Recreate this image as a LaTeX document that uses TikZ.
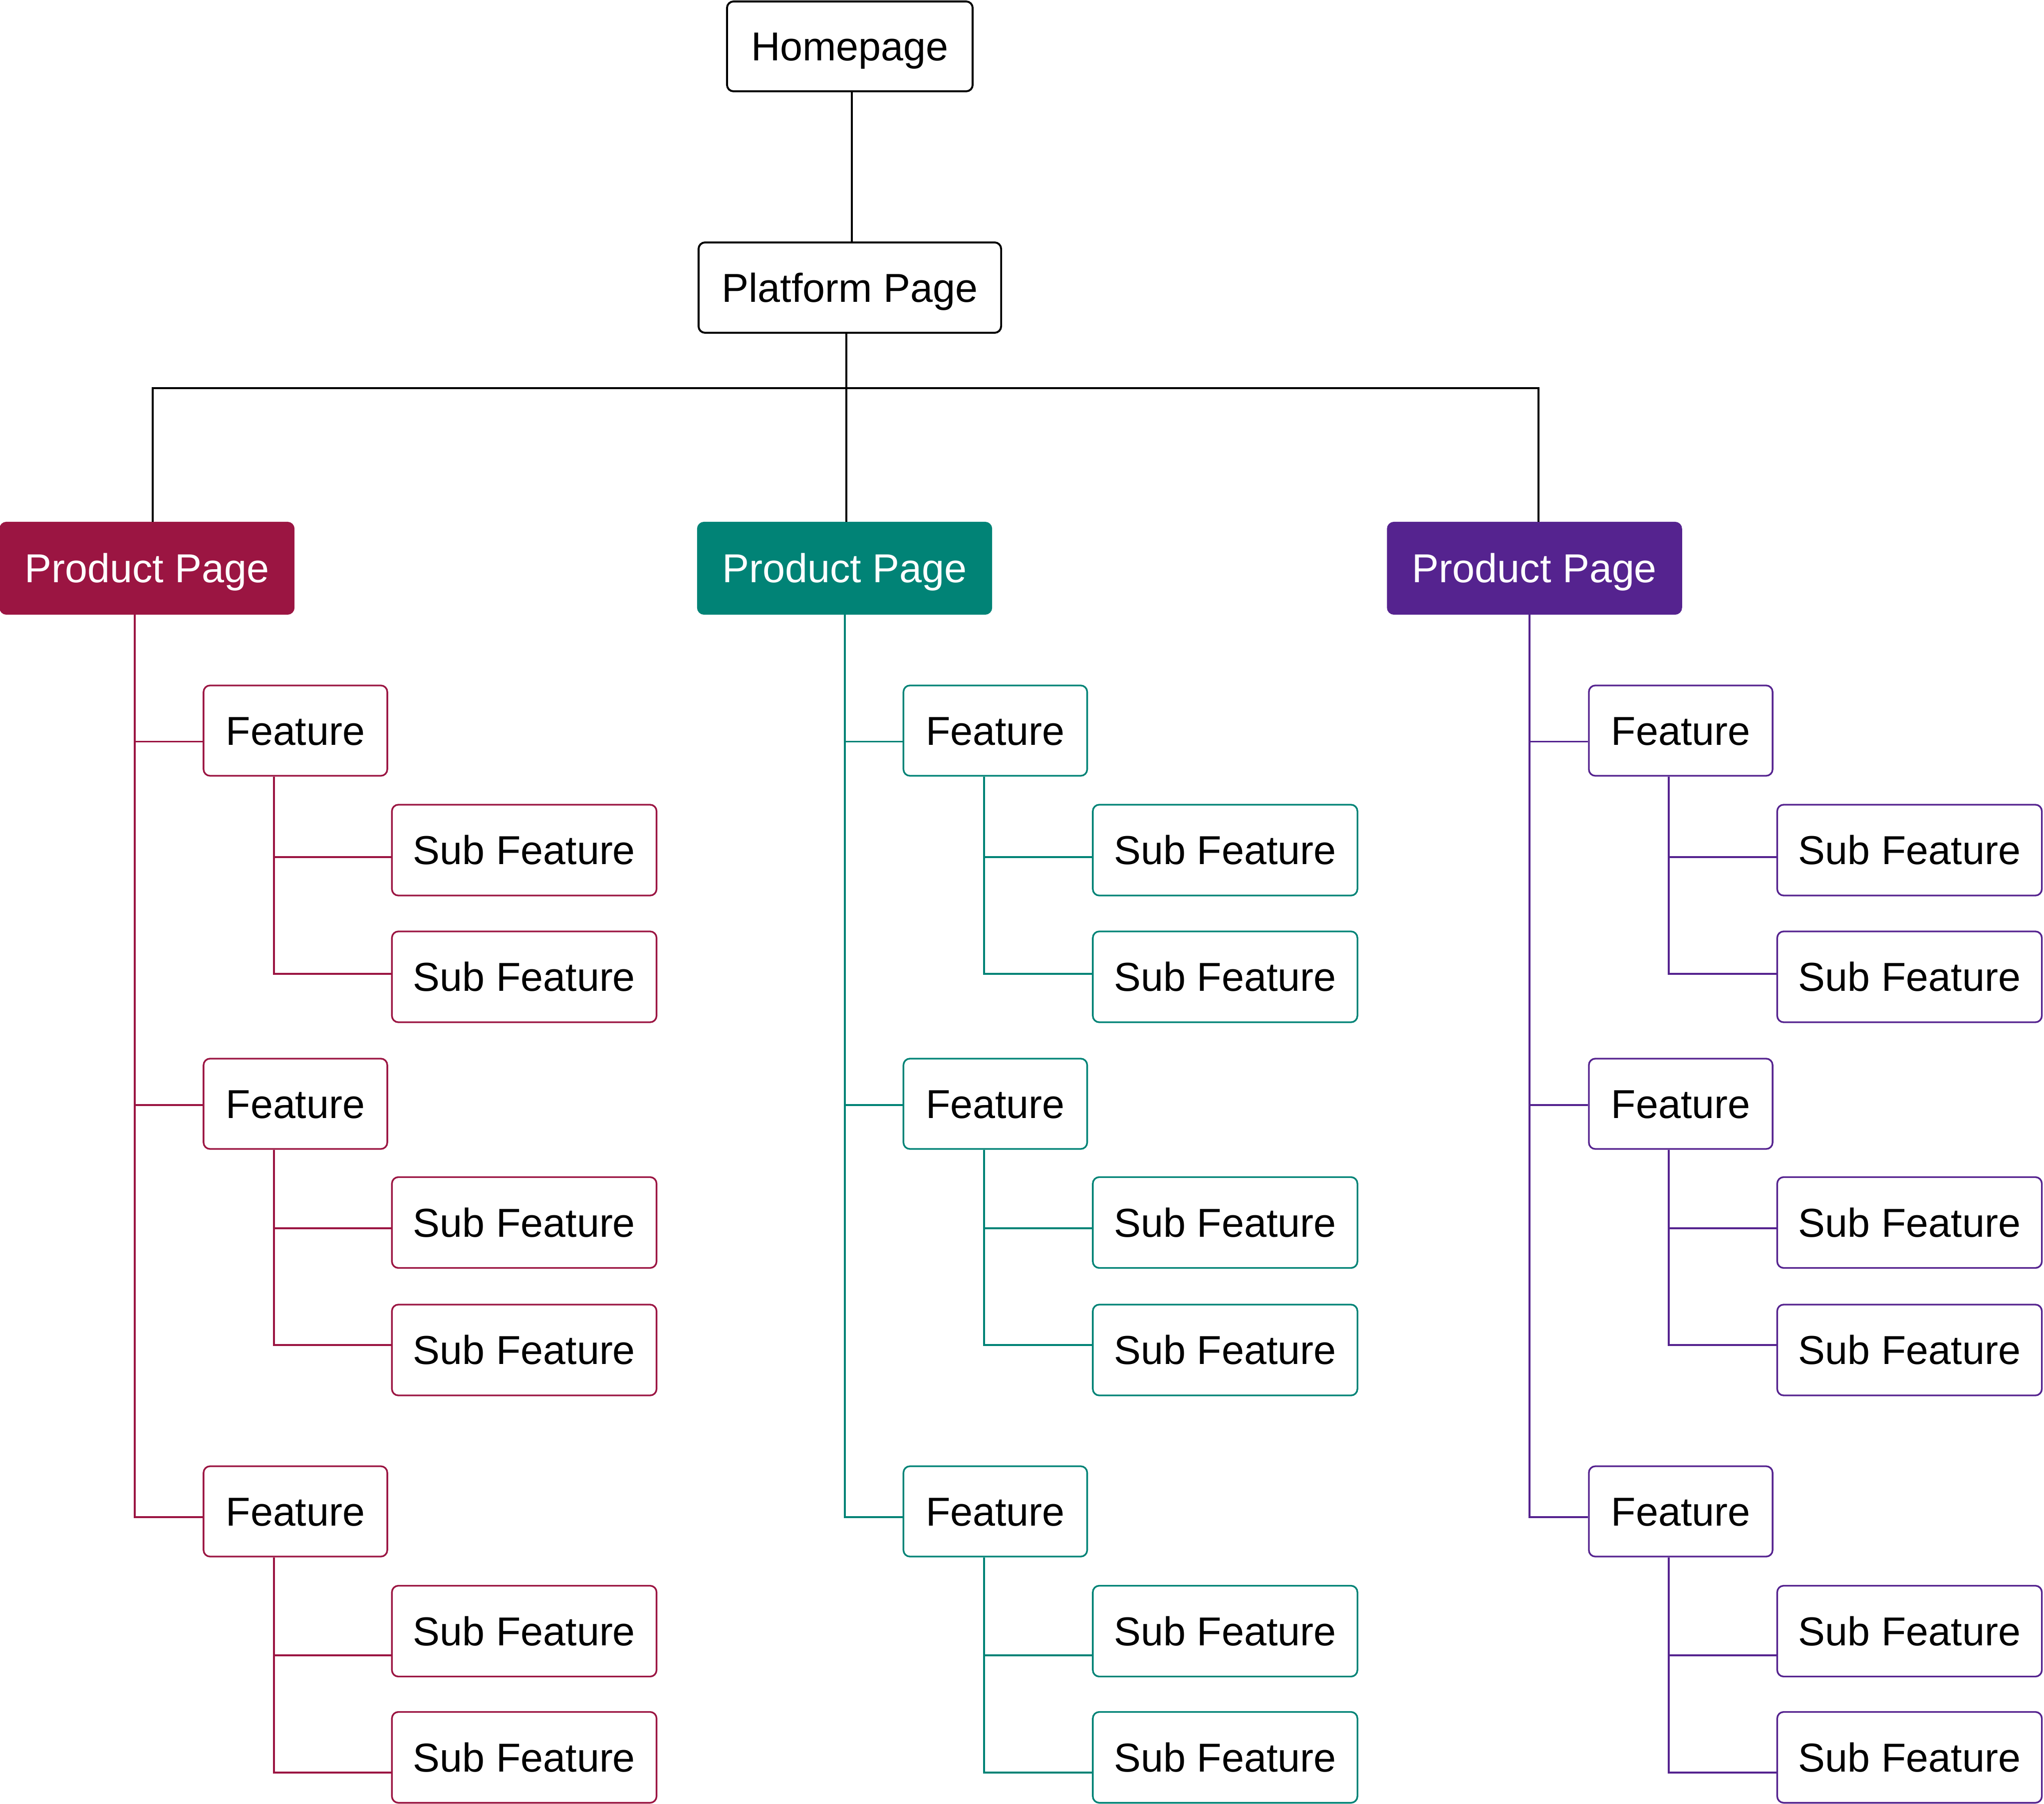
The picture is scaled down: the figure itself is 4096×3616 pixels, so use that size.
\documentclass[tikz,border=0pt]{standalone}
\usepackage{fontspec}
\setmainfont{Liberation Sans}
\definecolor{cred}{RGB}{155,21,66}
\definecolor{cteal}{RGB}{1,131,118}
\definecolor{cpurp}{RGB}{85,35,143}
\tikzset{
  box/.style={draw, rounded corners=0.13cm, fill=white, inner sep=0pt,
    text depth=0pt, text height=16.45pt, font=\fontsize{23}{27.6}\selectfont},
  blackbox/.style={box, draw=black, line width=1.1pt},
  ppage/.style={box, draw=#1, fill=#1, text=white, line width=0.6pt,
    minimum width=5.89cm, minimum height=1.84cm},
  feat/.style={box, draw=#1, line width=0.95pt, minimum width=3.68cm, minimum height=1.81cm},
  subf/.style={box, draw=#1, line width=0.95pt, minimum width=5.30cm, minimum height=1.82cm},
  blackline/.style={draw=black, line width=1.1pt},
  colline/.style={draw=#1, line width=0.9pt},
}
\begin{document}
\begin{tikzpicture}[x=0.01cm,y=-0.01cm]
\useasboundingbox (0,0) rectangle (4096,3616);
% top nodes
\node[blackbox, minimum width=4.92cm, minimum height=1.80cm] (home) at (1703,93) {Homepage};
\node[blackbox, minimum width=6.06cm, minimum height=1.81cm] (plat) at (1703,576.5) {Platform Page};
% product pages
\node[ppage=cred]  (ppR) at (294.5,1139) {Product Page};
\node[ppage=cteal] (ppT) at (1692.5,1139) {Product Page};
\node[ppage=cpurp] (ppP) at (3075,1139) {Product Page};
% helper coordinates
\coordinate (hx) at (1707,0);
\coordinate (px) at (1696,0);
\coordinate (bus) at (0,778);
\coordinate (dR) at (306,0);
\coordinate (dT) at (1696,0);
\coordinate (dP) at (3083,0);
\draw[blackline] (home.south -| hx) -- (plat.north -| hx);
\draw[blackline] (plat.south -| px) -- (bus -| px);
\draw[blackline] (ppR.north -| dR) |- (bus -| dT);
\draw[blackline] (bus -| dT) -| (ppP.north -| dP);
\draw[blackline] (bus -| dT) -- (ppT.north -| dT);
% branch levels
\coordinate (yF1) at (0,1486.5);
\coordinate (yF2) at (0,2215);
\coordinate (yF3) at (0,3041);
\coordinate (yS1) at (0,1718);
\coordinate (yS2) at (0,1952);
\coordinate (yS3) at (0,2462);
\coordinate (yS4) at (0,2696);
\coordinate (yS5) at (0,3318);
\coordinate (yS6) at (0,3553);
\foreach \c/\col/\tx/\ux/\fx/\sx in {R/cred/270/549/592/1050.5, T/cteal/1693/1972/1994.5/2455, P/cpurp/3065/3344/3368/3826.5}{
  \node[feat=\col] (f\c1) at (\fx,1464.5) {Feature};
  \node[feat=\col] (f\c2) at (\fx,2212.5) {Feature};
  \node[feat=\col] (f\c3) at (\fx,3029.5) {Feature};
  \node[subf=\col] (s\c1) at (\sx,1704) {Sub Feature};
  \node[subf=\col] (s\c2) at (\sx,1958) {Sub Feature};
  \node[subf=\col] (s\c3) at (\sx,2450.5) {Sub Feature};
  \node[subf=\col] (s\c4) at (\sx,2706) {Sub Feature};
  \node[subf=\col] (s\c5) at (\sx,3269.5) {Sub Feature};
  \node[subf=\col] (s\c6) at (\sx,3522.5) {Sub Feature};
  \coordinate (t\c) at (\tx,0);
  \coordinate (u\c) at (\ux,0);
  % main trunk
  \draw[colline=\col] (pp\c.south -| t\c) |- (yF3 -| f\c3.west);
  \draw[colline=\col] (yF1 -| t\c) -- (yF1 -| f\c1.west);
  \draw[colline=\col] (yF2 -| t\c) -- (yF2 -| f\c2.west);
  % sub trunks
  \draw[colline=\col] (f\c1.south -| u\c) |- (yS2 -| s\c2.west);
  \draw[colline=\col] (yS1 -| u\c) -- (yS1 -| s\c1.west);
  \draw[colline=\col] (f\c2.south -| u\c) |- (yS4 -| s\c4.west);
  \draw[colline=\col] (yS3 -| u\c) -- (yS3 -| s\c3.west);
  \draw[colline=\col] (f\c3.south -| u\c) |- (yS6 -| s\c6.west);
  \draw[colline=\col] (yS5 -| u\c) -- (yS5 -| s\c5.west);
}
\end{tikzpicture}
\end{document}
